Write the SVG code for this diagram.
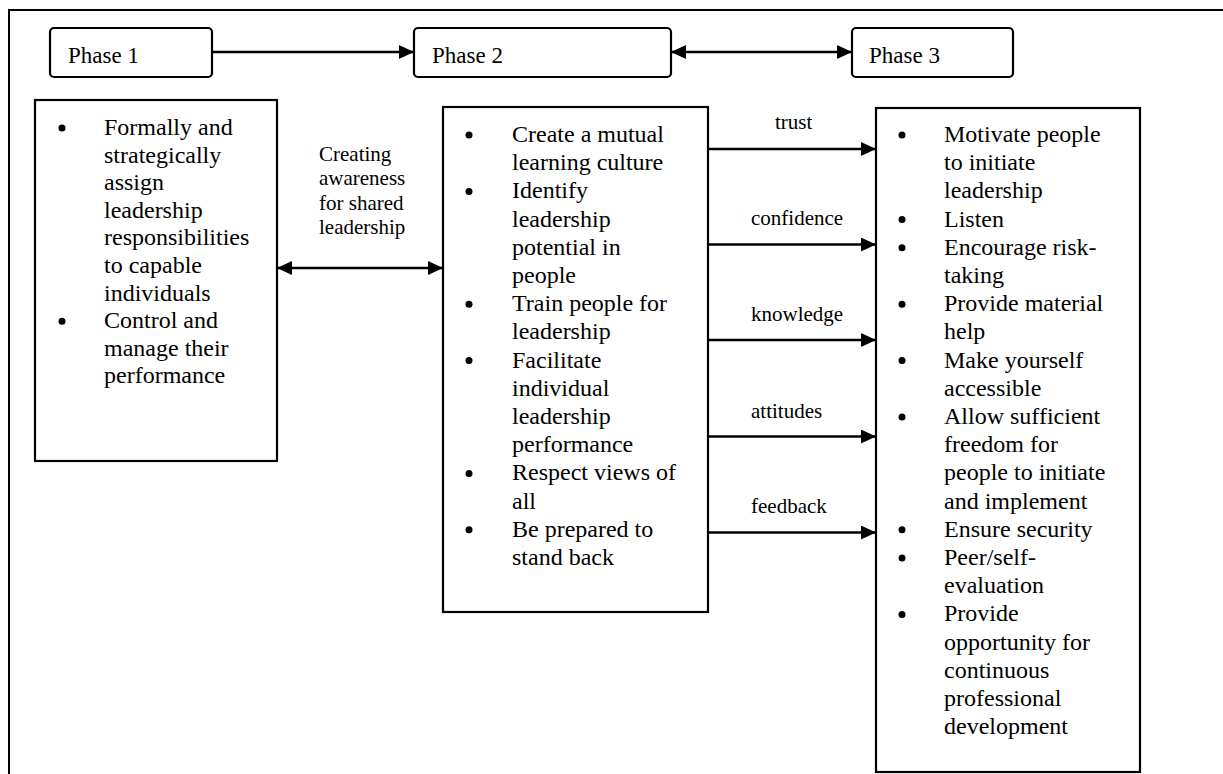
<svg xmlns="http://www.w3.org/2000/svg" width="1223" height="774" viewBox="0 0 1223 774">
<style>
text{font-family:"Liberation Serif","Times New Roman",serif;fill:#000}
.phase{font-size:23px}
.body{font-size:24px}
.lbl{font-size:21px}
.box{fill:#fff;stroke:#000;stroke-width:2.2}
.conn{stroke:#000;stroke-width:2.4;fill:none}
</style>
<defs>
<marker id="ah" markerUnits="userSpaceOnUse" markerWidth="15" markerHeight="14" refX="15" refY="7" orient="auto-start-reverse">
<path d="M0,0 L15,7 L0,14 z" fill="#000"/>
</marker>
</defs>
<rect width="1223" height="774" fill="#fff"/>
<path d="M9,774 V10 H1223" fill="none" stroke="#000" stroke-width="2"/>

<g id="phase1">
<rect class="box" x="50" y="28" width="162" height="49" rx="4"/>
<text class="phase" x="68" y="63">Phase 1</text>
</g>
<g id="phase2">
<rect class="box" x="414" y="28" width="257" height="49" rx="4"/>
<text class="phase" x="432" y="63">Phase 2</text>
</g>
<g id="phase3">
<rect class="box" x="852" y="28" width="161" height="49" rx="4"/>
<text class="phase" x="869" y="63">Phase 3</text>
</g>

<g id="box1">
<rect class="box" x="35" y="100" width="242" height="361"/>
<circle cx="62" cy="128" r="3.5"/>
<circle cx="62" cy="321.2" r="3.5"/>
<text class="body" x="104" y="135">
<tspan x="104" dy="0">Formally and</tspan>
<tspan x="104" dy="27.6">strategically</tspan>
<tspan x="104" dy="27.6">assign</tspan>
<tspan x="104" dy="27.6">leadership</tspan>
<tspan x="104" dy="27.6">responsibilities</tspan>
<tspan x="104" dy="27.6">to capable</tspan>
<tspan x="104" dy="27.6">individuals</tspan>
<tspan x="104" dy="27.6">Control and</tspan>
<tspan x="104" dy="27.6">manage their</tspan>
<tspan x="104" dy="27.6">performance</tspan>
</text>
</g>

<g id="box2">
<rect class="box" x="443" y="107" width="265" height="505"/>
<circle cx="469" cy="135" r="3.5"/>
<circle cx="469" cy="191.4" r="3.5"/>
<circle cx="469" cy="304.2" r="3.5"/>
<circle cx="469" cy="360.6" r="3.5"/>
<circle cx="469" cy="473.4" r="3.5"/>
<circle cx="469" cy="529.8" r="3.5"/>
<text class="body" x="512" y="142">
<tspan x="512" dy="0">Create a mutual</tspan>
<tspan x="512" dy="28.2">learning culture</tspan>
<tspan x="512" dy="28.2">Identify</tspan>
<tspan x="512" dy="28.2">leadership</tspan>
<tspan x="512" dy="28.2">potential in</tspan>
<tspan x="512" dy="28.2">people</tspan>
<tspan x="512" dy="28.2">Train people for</tspan>
<tspan x="512" dy="28.2">leadership</tspan>
<tspan x="512" dy="28.2">Facilitate</tspan>
<tspan x="512" dy="28.2">individual</tspan>
<tspan x="512" dy="28.2">leadership</tspan>
<tspan x="512" dy="28.2">performance</tspan>
<tspan x="512" dy="28.2">Respect views of</tspan>
<tspan x="512" dy="28.2">all</tspan>
<tspan x="512" dy="28.2">Be prepared to</tspan>
<tspan x="512" dy="28.2">stand back</tspan>
</text>
</g>

<g id="box3">
<rect class="box" x="876" y="108" width="264" height="664"/>
<circle cx="902" cy="135" r="3.5"/>
<circle cx="902" cy="219.6" r="3.5"/>
<circle cx="902" cy="247.8" r="3.5"/>
<circle cx="902" cy="304.2" r="3.5"/>
<circle cx="902" cy="360.6" r="3.5"/>
<circle cx="902" cy="417" r="3.5"/>
<circle cx="902" cy="529.8" r="3.5"/>
<circle cx="902" cy="558" r="3.5"/>
<circle cx="902" cy="614.4" r="3.5"/>
<text class="body" x="944" y="142">
<tspan x="944" dy="0">Motivate people</tspan>
<tspan x="944" dy="28.2">to initiate</tspan>
<tspan x="944" dy="28.2">leadership</tspan>
<tspan x="944" dy="28.2">Listen</tspan>
<tspan x="944" dy="28.2">Encourage risk-</tspan>
<tspan x="944" dy="28.2">taking</tspan>
<tspan x="944" dy="28.2">Provide material</tspan>
<tspan x="944" dy="28.2">help</tspan>
<tspan x="944" dy="28.2">Make yourself</tspan>
<tspan x="944" dy="28.2">accessible</tspan>
<tspan x="944" dy="28.2">Allow sufficient</tspan>
<tspan x="944" dy="28.2">freedom for</tspan>
<tspan x="944" dy="28.2">people to initiate</tspan>
<tspan x="944" dy="28.2">and implement</tspan>
<tspan x="944" dy="28.2">Ensure security</tspan>
<tspan x="944" dy="28.2">Peer/self-</tspan>
<tspan x="944" dy="28.2">evaluation</tspan>
<tspan x="944" dy="28.2">Provide</tspan>
<tspan x="944" dy="28.2">opportunity for</tspan>
<tspan x="944" dy="28.2">continuous</tspan>
<tspan x="944" dy="28.2">professional</tspan>
<tspan x="944" dy="28.2">development</tspan>
</text>
</g>

<g id="connectors">
<line class="conn" x1="212" y1="52" x2="414" y2="52" marker-end="url(#ah)"/>
<line class="conn" x1="671" y1="52" x2="852" y2="52" marker-start="url(#ah)" marker-end="url(#ah)"/>
<line class="conn" x1="277" y1="268" x2="443" y2="268" marker-start="url(#ah)" marker-end="url(#ah)"/>
<line class="conn" x1="708" y1="149" x2="876" y2="149" marker-end="url(#ah)"/>
<line class="conn" x1="708" y1="244.5" x2="876" y2="244.5" marker-end="url(#ah)"/>
<line class="conn" x1="708" y1="340" x2="876" y2="340" marker-end="url(#ah)"/>
<line class="conn" x1="708" y1="436.5" x2="876" y2="436.5" marker-end="url(#ah)"/>
<line class="conn" x1="708" y1="532.5" x2="876" y2="532.5" marker-end="url(#ah)"/>
<text class="lbl" x="319" y="161">Creating</text>
<text class="lbl" x="319" y="185">awareness</text>
<text class="lbl" x="319" y="209.5">for shared</text>
<text class="lbl" x="319" y="234">leadership</text>
<text class="lbl" x="775" y="129">trust</text>
<text class="lbl" x="751" y="225">confidence</text>
<text class="lbl" x="751" y="321">knowledge</text>
<text class="lbl" x="751" y="418">attitudes</text>
<text class="lbl" x="751" y="513">feedback</text>
</g>
</svg>
